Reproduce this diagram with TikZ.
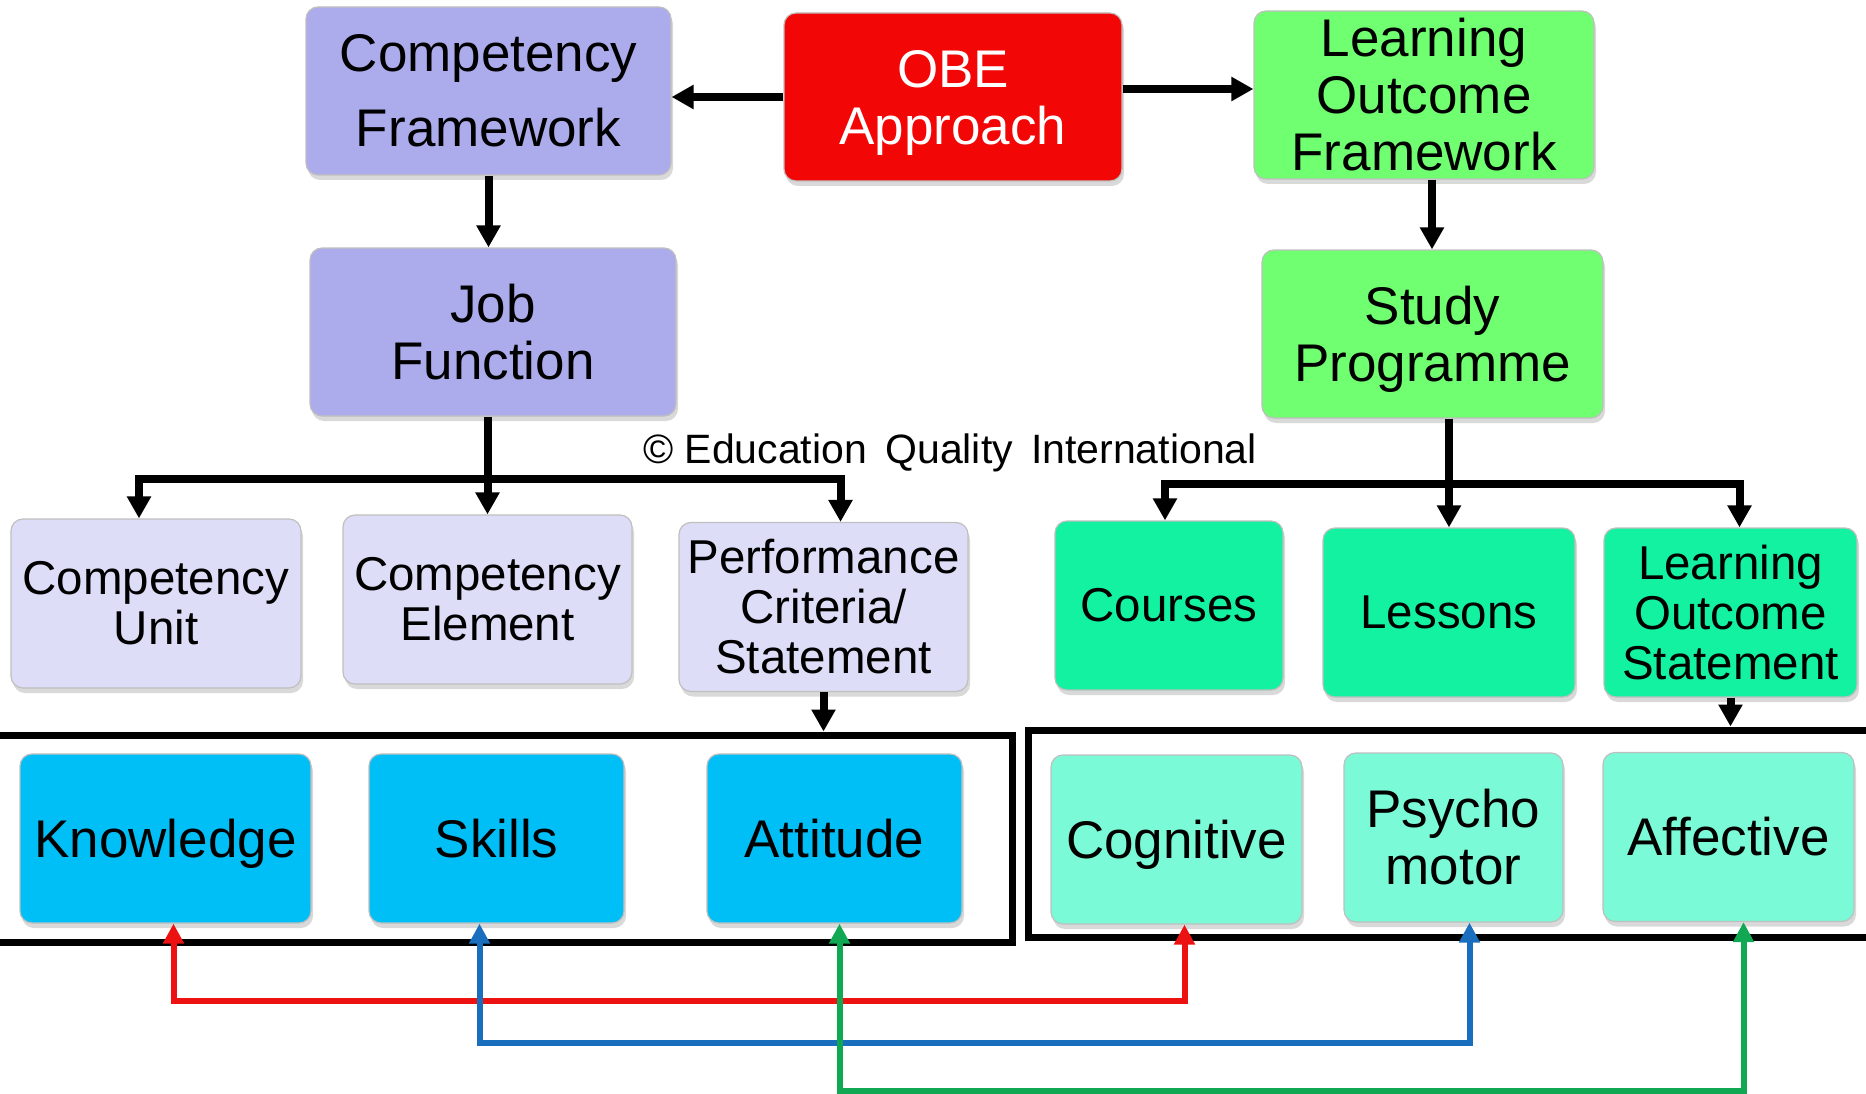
\documentclass[tikz,border=0pt]{standalone}
\usepackage{fontspec}
\setmainfont{Liberation Sans}
\usetikzlibrary{arrows.meta,shadows}
\definecolor{lavender}{RGB}{172,172,236}
\definecolor{palelavender}{RGB}{221,221,248}
\definecolor{obered}{RGB}{242,6,6}
\definecolor{lightgreen}{RGB}{112,255,112}
\definecolor{springgreen}{RGB}{18,242,160}
\definecolor{skyblue}{RGB}{0,190,246}
\definecolor{aquamarine}{RGB}{122,250,214}
\definecolor{linkred}{RGB}{236,18,18}
\definecolor{linkblue}{RGB}{26,110,190}
\definecolor{linkgreen}{RGB}{16,168,82}
\begin{document}
\begin{tikzpicture}[x=1pt,y=-1pt,
	box/.style={draw=black!25,line width=1.2pt,rounded corners=12pt,inner sep=0pt,align=center,
		drop shadow={shadow xshift=2pt,shadow yshift=-5pt,opacity=0.3}},
	bigbox/.style={box,font=\fontsize{53}{57}\selectfont,minimum height=168pt},
	smallbox/.style={box,font=\fontsize{47.5}{50}\selectfont,minimum height=169pt},
	groupframe/.style={draw,line width=7pt,inner sep=0pt,minimum height=207pt},
	link/.style={line width=8pt,->,>={Triangle[length=22pt,width=23pt]}},
	pairlink/.style={line width=6pt,<->,>={Triangle[length=20pt,width=20pt]}}]
			\useasboundingbox (0,0) rectangle (1866,1094);
			\node[bigbox,fill=lavender,minimum width=365pt,font=\fontsize{53}{75}\selectfont] (CF)at(488.5,91) {Competency\\Framework};
			\node[bigbox,fill=obered,text=white,minimum width=338pt,text depth=0pt] (OBE)at(953,97) {OBE\\Approach};
			\node[bigbox,fill=lightgreen,minimum width=340pt] (LOF)at(1424,95) {Learning\\Outcome\\Framework};
			\node[bigbox,fill=lavender,minimum width=366pt] (JF)at(493,332) {Job\\Function};
			\node[bigbox,fill=lightgreen,minimum width=341pt,text depth=0pt] (SP)at(1432.5,334) {Study\\Programme};
			\node[font=\fontsize{41}{44}\selectfont] (copy)at(950,453) {© Education\, Quality\, International};
			\node[smallbox,fill=palelavender,minimum width=290pt] (CU)at(156,603.5) {Competency\\Unit};
			\node[smallbox,fill=palelavender,minimum width=289pt] (CE)at(487.5,599.5) {Competency\\Element};
			\node[smallbox,fill=palelavender,minimum width=289pt] (PC)at(823.5,607) {Performance\\Criteria/\\Statement};
			\node[smallbox,fill=springgreen,minimum width=228pt] (Courses)at(1169,605.5) {Courses};
			\node[smallbox,fill=springgreen,minimum width=252pt] (Lessons)at(1449,612.5) {Lessons};
			\node[smallbox,fill=springgreen,minimum width=253pt] (LOS)at(1730.5,612.5) {Learning\\Outcome\\Statement};
			\node[groupframe,minimum width=1032pt] (KSA)at(496,838.5) {};
			\node[groupframe,minimum width=862pt] (CPA)at(1459,833.5) {};
			\node[bigbox,fill=skyblue,minimum width=291pt,minimum height=169pt,text depth=0pt] (K)at(165.5,838.5) {Knowledge};
			\node[bigbox,fill=skyblue,minimum width=255pt,minimum height=169pt] (S)at(496.5,838.5) {Skills};
			\node[bigbox,fill=skyblue,minimum width=255pt,minimum height=169pt] (A)at(834.5,838.5) {Attitude};
			\node[bigbox,fill=aquamarine,minimum width=251pt,minimum height=169pt,text depth=0pt] (Cog)at(1176.5,839.5) {Cognitive};
			\node[bigbox,fill=aquamarine,minimum width=219pt,minimum height=169pt] (Psy)at(1453.5,837.5) {Psycho\\motor};
			\node[bigbox,fill=aquamarine,minimum width=251pt,minimum height=169pt] (Aff)at(1728.5,837) {Affective};
			\coordinate (lbar) at (490,479);
			\coordinate (rbar) at (1445,484);
			\draw[link] (OBE.west) -- (OBE.west -| CF.east);
			\draw[link] ([yshift=8pt]OBE.east) -- ([yshift=8pt]OBE.east -| LOF.west);
			\draw[link] (CF.south) -- (CF.south |- JF.north);
			\draw[link] ([xshift=8pt]LOF.south) -- ([xshift=8pt]LOF.south |- SP.north);
			\draw[link] (CE.north |- JF.south) -- (CE.north);
			\draw[link,<->] ([xshift=-17pt]CU.north) |- (lbar) -| ([xshift=17pt]PC.north);
			\draw[link] (Lessons.north |- SP.south) -- (Lessons.north);
			\draw[link,<->] ([xshift=-4pt]Courses.north) |- (rbar) -| ([xshift=9pt]LOS.north);
			\draw[link] (PC.south) -- (PC.south |- KSA.north);
			\draw[link] (LOS.south) -- (LOS.south |- CPA.north);
			\draw[pairlink,linkred] ([xshift=8pt]K.south) -- ++(0,77) -| ([xshift=8pt]Cog.south);
			\draw[pairlink,linkblue] ([xshift=-17pt]S.south) -- ++(0,119) -| ([xshift=16pt]Psy.south);
			\draw[pairlink,linkgreen] ([xshift=5pt]A.south) -- ++(0,167) -| ([xshift=15pt]Aff.south);
		\end{tikzpicture}
\end{document}
